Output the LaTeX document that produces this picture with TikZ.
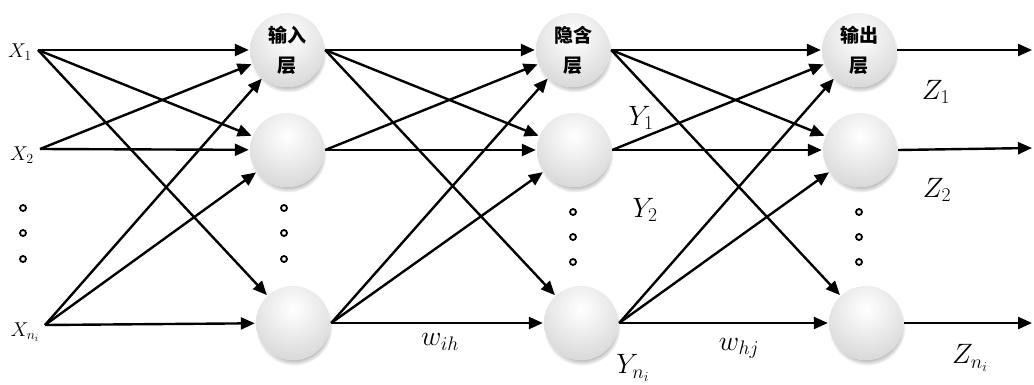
\RequirePackage{fix-cm}
\documentclass[tikz,border=0pt]{standalone}
\usepackage{fontspec}
\newfontfamily\cjk{Noto Sans CJK SC}
\usetikzlibrary{arrows.meta}
\usetikzlibrary{shadows}
\tikzset{>={Triangle[length=14pt,width=12pt]}}
\tikzset{neuron/.style={circle, minimum size=74pt, inner sep=0pt, fill=white,
  path picture={\shade[inner color=white, outer color=black!16]
    ([yshift=14pt]path picture bounding box.center) circle (54pt);},
  circular drop shadow={shadow xshift=1pt, shadow yshift=-4pt, shadow scale=1.04, opacity=0.5},
  font=\cjk\bfseries\fontsize{19}{30}\selectfont, align=center}}
\tikzset{invar/.style={font=\fontsize{20}{22}\selectfont, inner sep=0pt}}
\tikzset{outvar/.style={font=\fontsize{28}{30}\selectfont, inner sep=0pt}}
\tikzset{ellip/.style={line width=1.8pt}}

\begin{document}
\begin{tikzpicture}[x=1pt, y=-1pt, line width=2.4pt]
\useasboundingbox (0,0) rectangle (1034,385);

% inputs
\coordinate (X1) at (38,50);
\coordinate (X2) at (40,149);
\coordinate (Xn) at (45,325);
\node[invar] (LX1) at (20,52) {$X_1$};
\node[invar] (LX2) at (22,155) {$X_2$};
\node[invar] (LXn) at (25,332) {$X_{n_i}$};

% neurons
\node[neuron] (I1) at (287,50) {输入\\层};
\node[neuron] (I2) at (287,150) {};
\node[neuron] (I3) at (293,323) {};
\node[neuron] (H1) at (573,50) {隐含\\层};
\node[neuron] (H2) at (574,150) {};
\node[neuron] (H3) at (581,323) {};
\node[neuron] (O1) at (859,50) {输出\\层};
\node[neuron] (O2) at (860,150) {};
\node[neuron] (O3) at (866,323) {};

% ellipsis dots
\draw[ellip] (23,208) circle (3pt);
\draw[ellip] (23,233) circle (3pt);
\draw[ellip] (23,259) circle (3pt);
\draw[ellip] (284,208) circle (3pt);
\draw[ellip] (284,233) circle (3pt);
\draw[ellip] (284,259) circle (3pt);
\draw[ellip] (573,212) circle (3pt);
\draw[ellip] (573,237) circle (3pt);
\draw[ellip] (573,262) circle (3pt);
\draw[ellip] (859,212) circle (3pt);
\draw[ellip] (859,237) circle (3pt);
\draw[ellip] (859,262) circle (3pt);

% input -> input layer
\draw[->] (X1) -- (I1);
\draw[->] (X1) -- (I2);
\draw[->] (X1) -- (I3);
\draw[->] (X2) -- (I1);
\draw[->] (X2) -- (I2);
\draw[->] (Xn) -- (I1);
\draw[->] (Xn) -- (I2);
\draw[->] (Xn) -- (I3);

% input layer -> hidden layer
\draw[->] (I1.east) -- (H1);
\draw[->] (I1.east) -- (H2);
\draw[->] (I1.east) -- (H3);
\draw[->] (I2.east) -- (H1);
\draw[->] (I2.east) -- (H2);
\draw[->] (I3.east) -- (H1);
\draw[->] (I3.east) -- (H2);
\draw[->] (I3.east) -- (H3);

% hidden layer -> output layer
\draw[->] (H1.east) -- (O1);
\draw[->] (H1.east) -- (O2);
\draw[->] (H1.east) -- (O3);
\draw[->] (H2.east) -- (O1);
\draw[->] (H2.east) -- (O2);
\draw[->] (H3.east) -- (O1);
\draw[->] (H3.east) -- (O2);
\draw[->] (H3.east) -- (O3);

% outputs
\coordinate (Z1) at (1032,50);
\coordinate (Z2) at (1032,148);
\coordinate (Zn) at (1032,323);
\draw[->] (O1.east) -- (Z1);
\draw[->] (O2.east) -- (Z2);
\draw[->] (O3.east) -- (Zn);

% labels
\node[outvar] (LY1) at (641,118) {$Y_1$};
\node[outvar] (LY2) at (645,210) {$Y_2$};
\node[outvar] (LYn) at (633,368) {$Y_{n_i}$};
\node[outvar] (Lwih) at (440,342) {$w_{ih}$};
\node[outvar] (Lwhj) at (739,348) {$w_{hj}$};
\node[outvar] (LZ1) at (936,92) {$Z_1$};
\node[outvar] (LZ2) at (937,190) {$Z_2$};
\node[outvar] (LZn) at (970,358) {$Z_{n_i}$};

\end{tikzpicture}
\end{document}
